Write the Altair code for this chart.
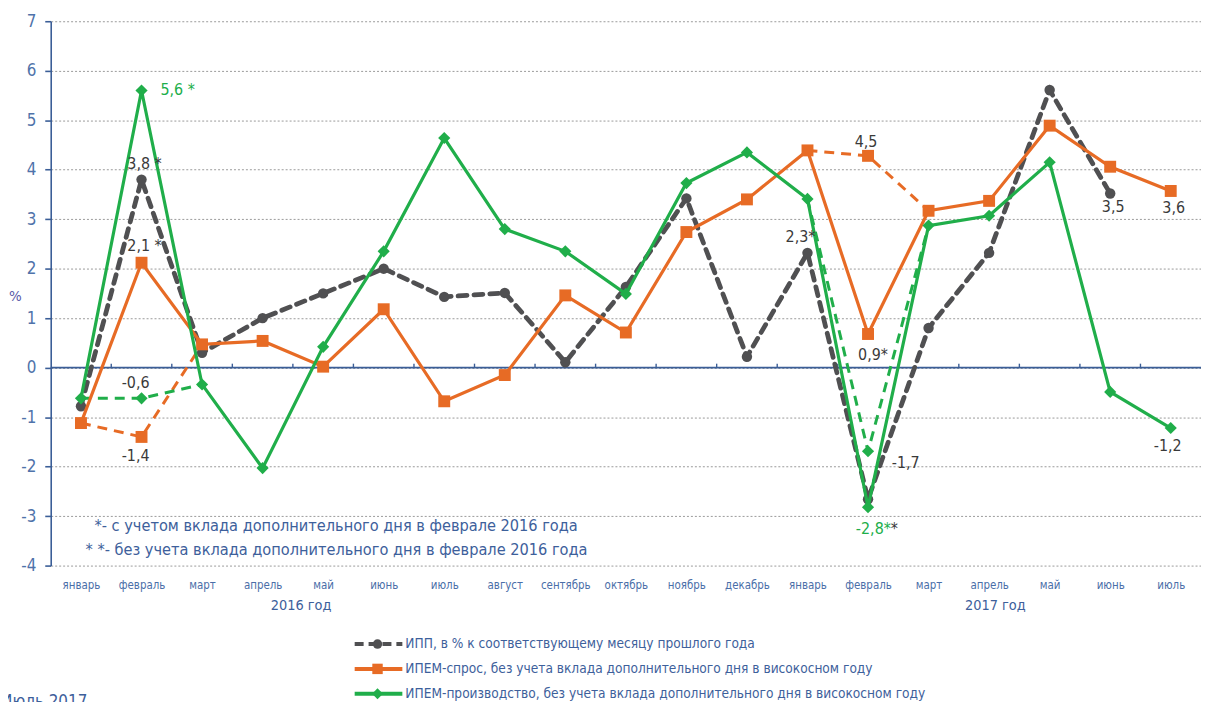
import altair as alt
import pandas as pd

# ---------------- data ----------------
months = ["январь", "февраль", "март", "апрель", "май", "июнь", "июль", "август",
          "сентябрь", "октябрь", "ноябрь", "декабрь", "январь", "февраль", "март",
          "апрель", "май", "июнь", "июль"]
ipp = [-0.78, 3.8, 0.3, 1.0, 1.5, 2.0, 1.43, 1.51, 0.11, 1.63, 3.42, 0.22,
       2.32, -2.66, 0.8, 2.32, 5.61, 3.52, None]
demand = [-1.12, 2.12, 0.47, 0.54, 0.02, 1.18, -0.68, -0.15, 1.46, 0.71, 2.74, 3.4,
          4.39, 0.68, 3.17, 3.37, 4.89, 4.06, 3.57]
production = [-0.62, 5.6, -0.34, -2.03, 0.42, 2.35, 4.64, 2.8, 2.35, 1.49, 3.73, 4.35,
              3.41, -2.82, 2.87, 3.07, 4.15, -0.49, -1.22]
# alternative (dashed) segments
alt_idx = [0, 1, 2, 12, 13, 14]
alt_seg = [1, 1, 1, 2, 2, 2]
demand_alt = [-1.12, -1.4, 0.47, 4.39, 4.28, 3.17]
production_alt = [-0.62, -0.62, -0.34, 3.41, -1.69, 2.87]

series_names = ["ИПП, в % к соответствующему месяцу прошлого года",
                "ИПЕМ-спрос, без учета вклада дополнительного дня в високосном году",
                "ИПЕМ-производство, без учета вклада дополнительного дня в високосном году"]

ann_text = ["5,6 *", "3,8 *", "2,1 *", "-0,6", "-1,4", "2,3*", "4,5", "0,9*", "-1,7",
            "-2,8*", "*", "3,5", "3,6", "-1,2"]
ann_idx = [1, 1, 1, 1, 1, 12, 13, 13, 13, 13, 13, 17, 18, 18]
ann_val = [5.6, 3.8, 2.12, -0.62, -1.4, 2.32, 4.28, 0.68, -1.69, -2.82, -2.82, 3.52, 3.57, -1.22]
ann_kind = ["g", "d", "d", "d", "d", "d", "d", "d", "d", "g", "d", "d", "d", "d"]

years = ["2016 год", "2017 год"]
footnotes = ["*- с учетом вклада дополнительного дня в феврале 2016 года",
             "* *- без учета вклада дополнительного дня в феврале 2016 года"]
source_note = "Июль 2017"

# ---------------- styles ----------------
W, H = 1158, 548
FONT = "Liberation Sans Narrow, DejaVu Sans Condensed, Roboto Condensed, Roboto, sans-serif"
GRAY = "#505052"
ORANGE = "#e76b25"
GREEN = "#20ae4a"
BLUE = "#3b5e97"
TXT = "#4a6ea8"
DARK = "#3a3a3a"
NOTE = "#3d609b"

x_scale = alt.Scale(domain=[-0.5, 18.5], nice=False, zero=False)
y_scale = alt.Scale(domain=[-4, 7], nice=False, zero=False)

label_expr = "[" + ",".join("'" + m + "'" for m in months) + "][datum.value]"
X_AXIS = alt.Axis(values=list(range(len(months))), labelExpr=label_expr, domain=False,
                  ticks=False, tickSize=0, grid=False, labelPadding=20,
                  labelBaseline="middle", labelFontSize=11.5, labelColor=TXT,
                  labelFont=FONT, labelOverlap=False, labelFlush=False, title=None)
Y_AXIS = alt.Axis(values=list(range(-4, 8)), labelExpr="'' + datum.value", grid=True,
                  gridDash=[2, 2], gridColor="#9a9a9a", gridWidth=1,
                  domainColor=BLUE, domainWidth=1.6, tickColor=BLUE, tickWidth=1.6,
                  tickSize=6, labelPadding=9, labelFontSize=17, labelColor="#4f73aa",
                  labelFont=FONT, title="%", titleAngle=0, titleX=-36, titleY=276,
                  titleAlign="center", titleBaseline="middle", titleFontSize=15,
                  titleFontWeight="normal", titleColor="#5a5aa8", titleFont=FONT)


def X(field):
    return alt.X(field + ":Q", scale=x_scale, axis=X_AXIS)


def Y(field):
    return alt.Y(field + ":Q", scale=y_scale, axis=Y_AXIS)


main = pd.DataFrame({"idx": list(range(len(months))), "ipp": ipp,
                     "demand": demand, "production": production})
alts = pd.DataFrame({"idx": alt_idx, "seg": alt_seg, "demand": demand_alt,
                     "production": production_alt})
alt_mid = alts[alts["idx"].isin([1, 13])]

layers = []

# zero line with small ticks at category boundaries
zero_df = pd.DataFrame({"z": [0.0]})
layers.append(alt.Chart(zero_df).mark_rule(color=BLUE, strokeWidth=1.6).encode(y=Y("z")))
bnd = pd.DataFrame({"b": [i + 0.5 for i in range(len(months) - 1)]})
bnd["y0"] = 0.0
bnd["y1"] = 0.08
layers.append(alt.Chart(bnd).mark_rule(color=BLUE, strokeWidth=1.4).encode(
    x=X("b"), y=Y("y0"), y2="y1:Q"))

# dashed alternatives
layers.append(alt.Chart(alts).mark_line(color=ORANGE, strokeWidth=3, strokeDash=[10, 7]).encode(
    x=X("idx"), y=Y("demand"), detail="seg:N"))
layers.append(alt.Chart(alts).mark_line(color=GREEN, strokeWidth=3, strokeDash=[10, 7]).encode(
    x=X("idx"), y=Y("production"), detail="seg:N"))
layers.append(alt.Chart(alt_mid).mark_point(shape="square", filled=True, opacity=1,
                                            size=144, color=ORANGE).encode(
    x=X("idx"), y=Y("demand")))
layers.append(alt.Chart(alt_mid).mark_point(shape="diamond", filled=True, opacity=1,
                                            size=150, color=GREEN).encode(
    x=X("idx"), y=Y("production")))

# gray IPP dashed
ipp_df = main.dropna(subset=["ipp"])
layers.append(alt.Chart(ipp_df).mark_line(color=GRAY, strokeWidth=4.8, strokeDash=[9, 7],
                                          strokeCap="round").encode(x=X("idx"), y=Y("ipp")))
layers.append(alt.Chart(ipp_df).mark_point(shape="circle", filled=True, opacity=1,
                                           size=110, color=GRAY).encode(x=X("idx"), y=Y("ipp")))

# orange demand
layers.append(alt.Chart(main).mark_line(color=ORANGE, strokeWidth=3.2).encode(
    x=X("idx"), y=Y("demand")))
layers.append(alt.Chart(main).mark_point(shape="square", filled=True, opacity=1,
                                         size=144, color=ORANGE).encode(x=X("idx"), y=Y("demand")))

# green production
layers.append(alt.Chart(main).mark_line(color=GREEN, strokeWidth=3.2).encode(
    x=X("idx"), y=Y("production")))
layers.append(alt.Chart(main).mark_point(shape="diamond", filled=True, opacity=1,
                                         size=150, color=GREEN).encode(
    x=X("idx"), y=Y("production")))

# annotations (offsets in px from their data point)
offsets = [(19, 0, "left"), (3, -16, "center"), (3, -17, "center"), (-6, -15, "center"),
           (-6, 19, "center"), (-7, -16, "center"), (-2, -14, "center"), (5, 21, "center"),
           (38, 12, "center"), (23, 22, "right"), (23, 22, "left"), (3, 14, "center"),
           (3, 17, "center"), (-3, 18, "center")]
for t, i, v, k, (dx, dy, al) in zip(ann_text, ann_idx, ann_val, ann_kind, offsets):
    d = pd.DataFrame({"idx": [i], "val": [v], "t": [t]})
    layers.append(alt.Chart(d).mark_text(font=FONT, fontSize=16, dx=dx, dy=dy, align=al,
                                         baseline="middle",
                                         color=GREEN if k == "g" else DARK).encode(
        x=X("idx"), y=Y("val"), text="t:N"))

# footnotes, years, source
one = pd.DataFrame({"a": [0]})
for txt, xx, yy in zip(footnotes, [44, 35], [508, 532]):
    layers.append(alt.Chart(one).mark_text(font=FONT, fontSize=16.3, align="left",
                                           baseline="middle", color=NOTE).encode(
        x=alt.value(xx), y=alt.value(yy), text=alt.value(txt)))
for txt, xx in zip(years, [252, 951]):
    layers.append(alt.Chart(one).mark_text(font=FONT, fontSize=14.5, align="center",
                                           baseline="middle", color=NOTE).encode(
        x=alt.value(xx), y=alt.value(589), text=alt.value(txt)))
layers.append(alt.Chart(one).mark_text(font=FONT, fontSize=17, align="left",
                                       baseline="top", color=NOTE).encode(
    x=alt.value(-50), y=alt.value(677), text=alt.value(source_note)))

# legend
leg_colors = [GRAY, ORANGE, GREEN]
leg_shapes = ["circle", "square", "diamond"]
leg_sizes = [90, 110, 120]
leg_dash = [[9, 5], [1, 0], [1, 0]]
leg_y = [627, 652, 677]
for name, c, s, sz, dsh, yy in zip(series_names, leg_colors, leg_shapes, leg_sizes, leg_dash, leg_y):
    layers.append(alt.Chart(one).mark_rule(color=c, strokeWidth=4, strokeDash=dsh).encode(
        x=alt.value(306), x2=alt.value(354), y=alt.value(yy)))
    layers.append(alt.Chart(one).mark_point(shape=s, filled=True, opacity=1, size=sz,
                                            color=c).encode(
        x=alt.value(329), y=alt.value(yy)))
    layers.append(alt.Chart(one).mark_text(font=FONT, fontSize=13.7, align="left",
                                           baseline="middle", color=NOTE).encode(
        x=alt.value(357), y=alt.value(yy), text=alt.value(name)))

chart = alt.layer(*layers).properties(
    width=W, height=H,
    padding={"left": 43, "top": 11, "right": 0, "bottom": 135},
    autosize=alt.AutoSizeParams(type="none"),
    background="white",
).configure_view(stroke=None)

chart.save("out.html", embed_options={"renderer": "svg", "actions": False})
